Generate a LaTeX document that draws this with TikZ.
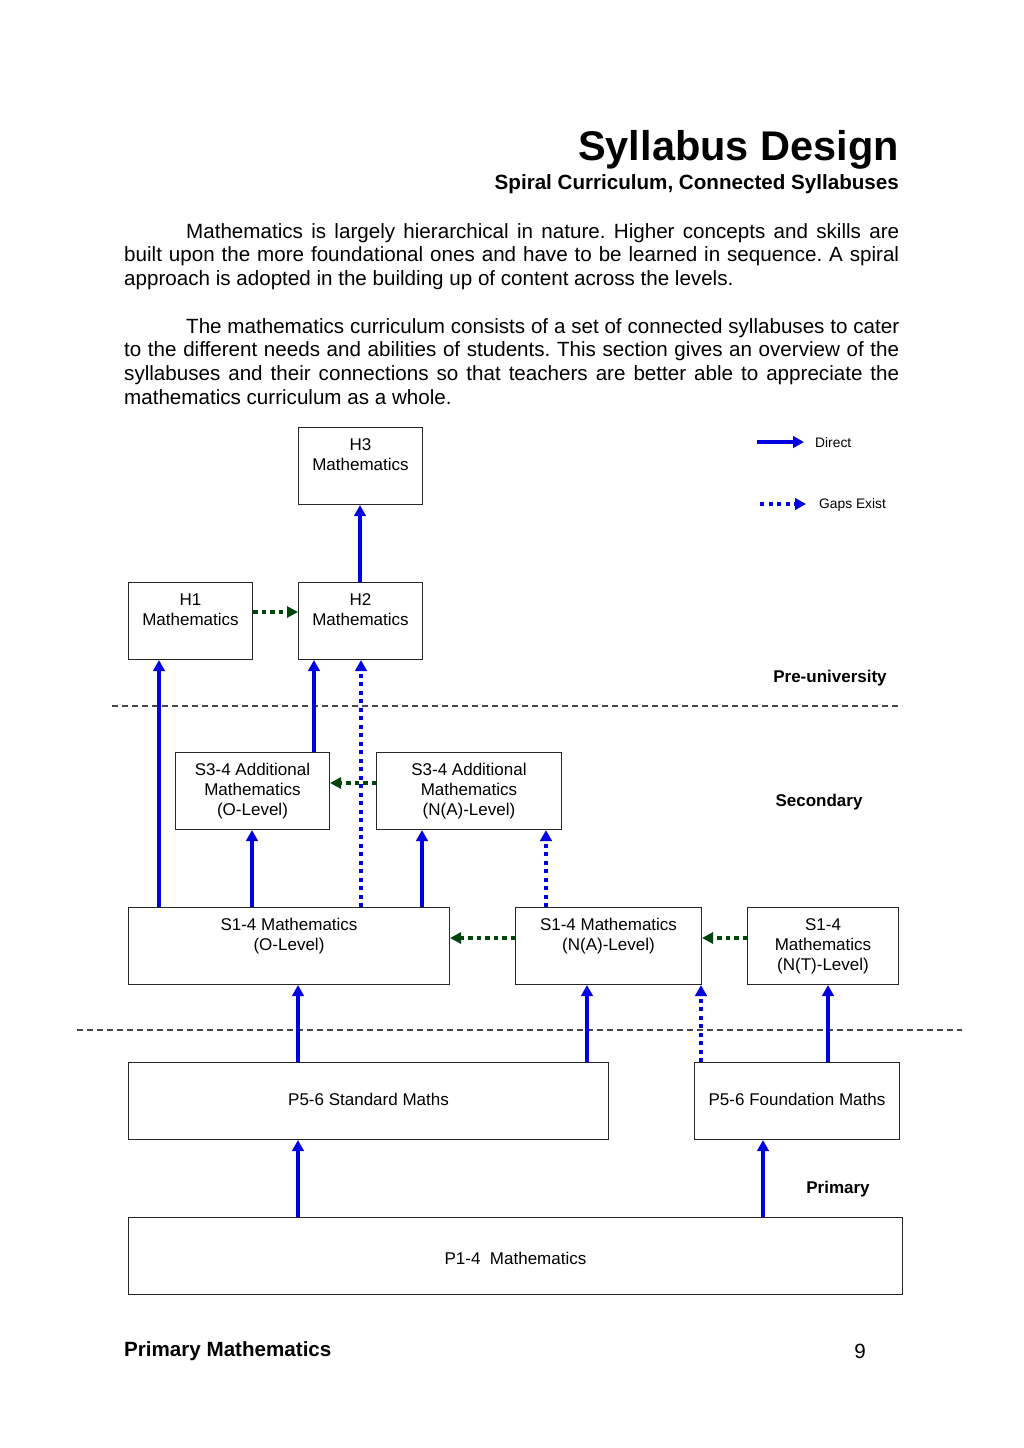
\documentclass[tikz,border=0pt]{standalone}
\usepackage{fontspec}
\setmainfont{Liberation Sans}
\usetikzlibrary{arrows.meta}
\definecolor{arrblue}{RGB}{0,0,225}
\definecolor{arrgreen}{RGB}{0,70,10}
\definecolor{divgray}{RGB}{70,70,70}
\newcommand{\boxfont}{\fontsize{17}{20}\selectfont}
\newcommand{\bodyfont}{\fontsize{20.6}{23.7}\selectfont\frenchspacing}
\begin{document}
\begin{tikzpicture}[x=1pt,y=-1pt,
  box/.style={draw=black!85,line width=1pt,inner sep=0pt,anchor=north west},
  boxtext/.style={anchor=north,yshift=-11pt,align=center,font=\boxfont,inner sep=0pt},
  midtext/.style={font=\boxfont,inner sep=0pt},
  direct/.style={draw=arrblue,line width=3.5pt,-{Triangle[length=11pt,width=11.5pt]}},
  gapblue/.style={direct,dash pattern=on 4pt off 4.5pt},
  gapgreen/.style={draw=arrgreen,line width=3.5pt,dash pattern=on 4.5pt off 4pt,-{Triangle[length=11pt,width=11pt]}},
  divider/.style={draw=divgray,line width=1.1pt,dash pattern=on 6pt off 4pt},
  lvl/.style={font=\fontsize{17}{20}\selectfont\bfseries,inner sep=0pt},
  legtext/.style={font=\fontsize{13.8}{16}\selectfont,inner sep=0pt,anchor=west}]
\useasboundingbox[fill=white] (0,0) rectangle (1024,1448);

% heading
\node[anchor=east,inner sep=0pt,font=\fontsize{41.5}{45}\selectfont\bfseries] (title) at (899,150) {Syllabus Design};
\node[anchor=east,inner sep=0pt,font=\fontsize{20.6}{24}\selectfont\bfseries] (subtitle) at (899,184) {Spiral Curriculum, Connected Syllabuses};

% body text
\node[anchor=north west,inner sep=0pt,text width=775pt,align=justify,font=\bodyfont] (para1) at (124,223)
{\hspace*{62pt}Mathematics is largely hierarchical in nature. Higher concepts and skills are\linebreak
built upon the more foundational ones and have to be learned in sequence. A spiral\linebreak
approach is adopted in the building up of content across the levels.};
\node[anchor=north west,inner sep=0pt,text width=775pt,align=justify,font=\bodyfont] (para2) at (124,318)
{\hspace*{62pt}The mathematics curriculum consists of a set of connected syllabuses to cater\linebreak
to the different needs and abilities of students. This section gives an overview of the\linebreak
syllabuses and their connections so that teachers are better able to appreciate the\linebreak
mathematics curriculum as a whole.};

% boxes
\node[box,minimum width=124pt,minimum height=77pt,label={[boxtext]north:{H3\\Mathematics}}] (h3) at (298,427) {};
\node[box,minimum width=124pt,minimum height=77pt,label={[boxtext,yshift=-1pt]north:{H1\\Mathematics}}] (h1) at (128,582) {};
\node[box,minimum width=124pt,minimum height=77pt,label={[boxtext]north:{H2\\Mathematics}}] (h2) at (298,582) {};
\node[box,minimum width=154pt,minimum height=77pt,label={[boxtext]north:{S3-4 Additional\\Mathematics\\(O-Level)}}] (s34o) at (175,752) {};
\node[box,minimum width=185pt,minimum height=77pt,label={[boxtext]north:{S3-4 Additional\\Mathematics\\(N(A)-Level)}}] (s34na) at (376,752) {};
\node[box,minimum width=321pt,minimum height=77pt,label={[boxtext]north:{S1-4 Mathematics\\(O-Level)}}] (s14o) at (128,907) {};
\node[box,minimum width=186pt,minimum height=77pt,label={[boxtext]north:{S1-4 Mathematics\\(N(A)-Level)}}] (s14na) at (515,907) {};
\node[box,minimum width=151pt,minimum height=77pt,label={[boxtext]north:{S1-4\\Mathematics\\(N(T)-Level)}}] (s14nt) at (747,907) {};
\node[box,minimum width=480pt,minimum height=77pt] (p56s) at (128,1062) {};
\node[midtext] (p56st) at ([yshift=1.5pt]p56s.center) {P5-6 Standard Maths};
\node[box,minimum width=205pt,minimum height=77pt] (p56f) at (694,1062) {};
\node[midtext] (p56ft) at ([yshift=1.5pt]p56f.center) {P5-6 Foundation Maths};
\node[box,minimum width=774pt,minimum height=77pt] (p14) at (128,1217) {};
\node[midtext] (p14t) at ([yshift=-2.5pt]p14.center) {P1-4\ \ Mathematics};

% column / row helper coordinates
\coordinate (x159) at (159,0);
\coordinate (x252) at (252,0);
\coordinate (x298) at (298,0);
\coordinate (x314) at (314,0);
\coordinate (x360) at (360,0);
\coordinate (x361) at (361,0);
\coordinate (x422) at (422,0);
\coordinate (x546) at (546,0);
\coordinate (x587) at (587,0);
\coordinate (x701) at (701,0);
\coordinate (x763) at (763,0);
\coordinate (x828) at (828,0);
\coordinate (y612) at (0,612);
\coordinate (y783) at (0,783);
\coordinate (y938) at (0,938);

% dividers
\coordinate (d1a) at (112,706);
\coordinate (d1b) at (902,706);
\coordinate (d2a) at (77,1030);
\coordinate (d2b) at (962,1030);
\draw[divider] (d1a) -- (d1b);
\draw[divider] (d2a) -- (d2b);

% level labels
\node[lvl] (lpre) at (830,678) {Pre-university};
\node[lvl] (lsec) at (819,802) {Secondary};
\node[lvl] (lpri) at (838,1189) {Primary};

% blue arrows
\draw[direct] (h2.north -| x360) -- (h3.south -| x360);
\draw[direct] (s14o.north -| x159) -- (h1.south -| x159);
\draw[direct] (s34o.north -| x314) -- (h2.south -| x314);
\draw[gapblue] (s14o.north -| x361) -- (h2.south -| x361);
\draw[direct] (s14o.north -| x252) -- (s34o.south -| x252);
\draw[direct] (s14o.north -| x422) -- (s34na.south -| x422);
\draw[gapblue] (s14na.north -| x546) -- (s34na.south -| x546);
\draw[direct] (p56s.north -| x298) -- (s14o.south -| x298);
\draw[direct] (p56s.north -| x587) -- (s14na.south -| x587);
\draw[gapblue] (p56f.north -| x701) -- (s14na.south -| x701);
\draw[direct] (p56f.north -| x828) -- (s14nt.south -| x828);
\draw[direct] (p14.north -| x298) -- (p56s.south -| x298);
\draw[direct] (p14.north -| x763) -- (p56f.south -| x763);

% green arrows
\draw[gapgreen] (h1.east |- y612) -- (h2.west |- y612);
\draw[gapgreen] (s34na.west |- y783) -- (s34o.east |- y783);
\draw[gapgreen] (s14na.west |- y938) -- (s14o.east |- y938);
\draw[gapgreen] (s14nt.west |- y938) -- (s14na.east |- y938);

% legend
\coordinate (lg1a) at (757,442);
\coordinate (lg1b) at (804,442);
\coordinate (lg2a) at (760,504);
\coordinate (lg2b) at (806,504);
\draw[direct] (lg1a) -- (lg1b);
\draw[gapblue] (lg2a) -- (lg2b);
\node[legtext] (ldirect) at (815,443) {Direct};
\node[legtext] (lgaps) at (819,505) {Gaps Exist};

% footer
\node[anchor=west,inner sep=0pt,font=\fontsize{20.6}{24}\selectfont\bfseries] (foot) at (124,1351) {Primary Mathematics};
\node[inner sep=0pt,font=\fontsize{20.6}{24}\selectfont] (pagenum) at (860,1351) {9};
\end{tikzpicture}
\end{document}
